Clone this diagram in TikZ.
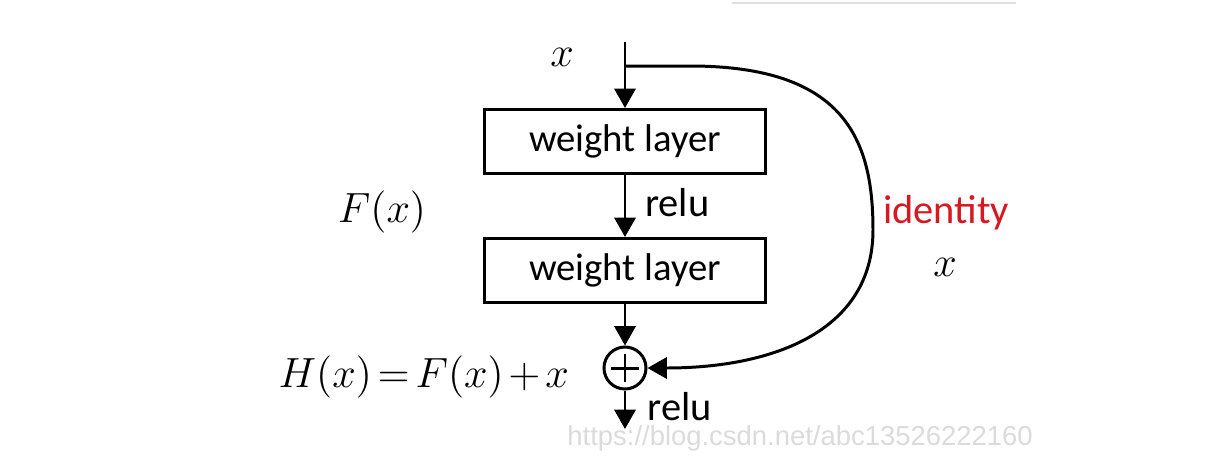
\documentclass[tikz,border=0pt]{standalone}
\usepackage{fontspec}
\setmainfont{Carlito}
\usetikzlibrary{arrows.meta,calc,positioning}
\definecolor{idred}{RGB}{214,24,32}

\begin{document}
\begin{tikzpicture}[x=0.01cm,y=-0.01cm,line width=0.85pt,
  >={Triangle[length=5.5pt,width=6pt]},
  layerbox/.style={draw,minimum width=2.80cm,minimum height=0.64cm,inner sep=0pt,font=\fontsize{11}{13}\selectfont},
  lbl/.style={font=\fontsize{11.5}{13}\selectfont},
  mth/.style={font=\fontsize{13}{16}\selectfont}]
  % canvas 1208 x 472 px
  \useasboundingbox (0,0) rectangle (1208,472);
  \draw[gray!25,line width=0.6pt] (732,3)--(1016,3);
  % main path
  \coordinate (in) at (625,42);
  \coordinate (split) at (625,66);
  \node[layerbox] (w1) at (625,141.5) {weight layer};
  \node[layerbox] (w2) at (625,270.5) {weight layer};
  \node[draw,circle,minimum size=0.42cm,inner sep=0pt] (sum) at (625,368) {};
  \draw ([xshift=-0.14cm]sum.center)--([xshift=0.14cm]sum.center)
        ([yshift=-0.14cm]sum.center)--([yshift=0.14cm]sum.center);
  \coordinate (out) at (625,429);
  \draw[->](in)--(w1);
  \draw[->](w1)--(w2) node[midway,right,lbl,xshift=2pt,yshift=1pt]{relu};
  \draw[->](w2)--(sum);
  \draw[->](sum)--(out) node[midway,right,lbl,inner sep=1pt,xshift=5pt,yshift=1pt]{relu};
  % shortcut
  \draw[->](split)--(690,66) .. controls (845,66) and (873,140) .. (873,230)
        .. controls (873,330) and (775,368) .. (sum.east);
  % labels
  \node[mth] (xin) at (562,57) {$x$};
  \node[mth] (fx) at (382,212) {$F(x)$};
  \node[font=\fontsize{12.8}{15}\selectfont,anchor=east] (hx) at (582,377)
    {$\thickmuskip=2.5mu\medmuskip=2mu H(x)=F(x)+x$};
  \node[lbl,text=idred] (idt) at (946,213) {identity};
  \node[mth] (xid) at (945,267) {$x$};
  % watermark
  \node[font=\fontspec{Liberation Sans}\fontsize{7.8}{9}\selectfont,text=gray!28,inner sep=0pt] (wmark) at (800,438) {https://blog.csdn.net/abc13526222160};
\end{tikzpicture}
\end{document}
